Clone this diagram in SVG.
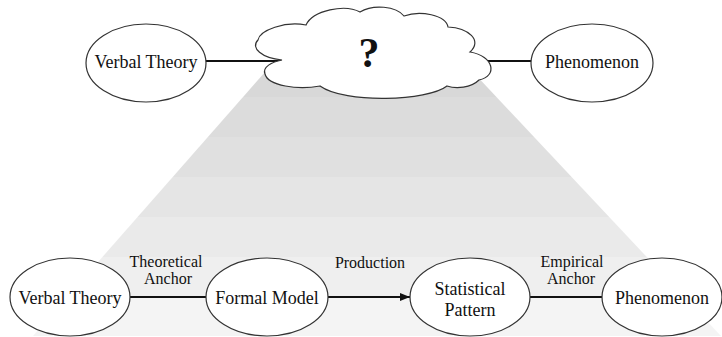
<svg xmlns="http://www.w3.org/2000/svg" width="722" height="337" viewBox="0 0 722 337">
  <defs>
    <!-- banded grey fill of the widening funnel -->
    <linearGradient id="funnelFill" gradientUnits="userSpaceOnUse" x1="0" y1="57" x2="0" y2="337">
      <stop offset="0" stop-color="#d8d8d8"/>
      <stop offset="0.143" stop-color="#d8d8d8"/>
      <stop offset="0.143" stop-color="#dcdcdc"/>
      <stop offset="0.286" stop-color="#dcdcdc"/>
      <stop offset="0.286" stop-color="#e0e0e0"/>
      <stop offset="0.429" stop-color="#e0e0e0"/>
      <stop offset="0.429" stop-color="#e5e5e5"/>
      <stop offset="0.571" stop-color="#e5e5e5"/>
      <stop offset="0.571" stop-color="#eaeaea"/>
      <stop offset="0.714" stop-color="#eaeaea"/>
      <stop offset="0.714" stop-color="#efefef"/>
      <stop offset="0.857" stop-color="#efefef"/>
      <stop offset="0.857" stop-color="#f4f4f4"/>
      <stop offset="1" stop-color="#f4f4f4"/>
    </linearGradient>
    <marker id="arrow" viewBox="0 0 10 8" refX="10" refY="4" markerWidth="10" markerHeight="8" markerUnits="userSpaceOnUse" orient="auto">
      <path d="M0,0 L10,4 L0,8 Z" fill="#111"/>
    </marker>
  </defs>
  <style>
    .node { fill: #fff; stroke: #333; stroke-width: 1.2; }
    .label { font-family: "Liberation Serif", "Times New Roman", serif; font-size: 18px; fill: #111; text-anchor: middle; }
    .edge-label { font-family: "Liberation Serif", "Times New Roman", serif; font-size: 16px; fill: #111; text-anchor: middle; }
    .link { stroke: #111; stroke-width: 2; fill: none; }
  </style>

  <rect width="722" height="337" fill="#fff"/>

  <!-- funnel from the unknown mechanism down to the detailed chain -->
  <polygon id="funnel" points="265,72 473,72 721,336 33,336" fill="url(#funnelFill)"/>

  <g id="connectors">
    <line class="link" x1="206" y1="61" x2="284" y2="61"/>
    <line class="link" x1="482" y1="61" x2="531" y2="61"/>
    <line class="link" x1="130" y1="297" x2="206" y2="297"/>
    <line class="link" x1="328" y1="297" x2="410" y2="297" marker-end="url(#arrow)"/>
    <line class="link" x1="530" y1="297" x2="602" y2="297"/>
  </g>

  <g id="edge-labels">
    <text class="edge-label" x="166" y="267">Theoretical</text>
    <text class="edge-label" x="168" y="284">Anchor</text>
    <text class="edge-label" x="370" y="268">Production</text>
    <text class="edge-label" x="572" y="267">Empirical</text>
    <text class="edge-label" x="571" y="284">Anchor</text>
  </g>

  <!-- top row -->
  <g id="top-verbal-theory">
    <ellipse class="node" cx="146" cy="63" rx="60" ry="39"/>
    <text class="label" x="146" y="68">Verbal Theory</text>
  </g>

  <g id="unknown-mechanism">
    <path class="node" d="M282,60 C262,58 250,48 258,40 C260,30 285,21 306,25 C313,10 345,4 360,12 C373,4 396,6 404,16 C420,10 446,15 448,27 C468,28 483,40 470,52 C494,56 498,76 479,80 C471,88 456,89 447,86 C428,101 345,104 320,86 C298,90 268,86 265,74 C262,67 272,62 282,60 Z"/>
    <text x="369" y="67" font-family="Liberation Serif, Times New Roman, serif" font-size="42" font-weight="bold" fill="#111" text-anchor="middle">?</text>
  </g>

  <g id="top-phenomenon">
    <ellipse class="node" cx="592" cy="63" rx="61" ry="39"/>
    <text class="label" x="592" y="68">Phenomenon</text>
  </g>

  <!-- bottom row -->
  <g id="verbal-theory">
    <ellipse class="node" cx="70" cy="297" rx="60" ry="39"/>
    <text class="label" x="70" y="304">Verbal Theory</text>
  </g>

  <g id="formal-model">
    <ellipse class="node" cx="267" cy="297" rx="61" ry="39"/>
    <text class="label" x="267" y="304">Formal Model</text>
  </g>

  <g id="statistical-pattern">
    <ellipse class="node" cx="470" cy="297" rx="60" ry="39"/>
    <text class="label" x="470" y="295">Statistical</text>
    <text class="label" x="470" y="316">Pattern</text>
  </g>

  <g id="phenomenon">
    <ellipse class="node" cx="662" cy="297" rx="60" ry="39"/>
    <text class="label" x="662" y="304">Phenomenon</text>
  </g>
</svg>
